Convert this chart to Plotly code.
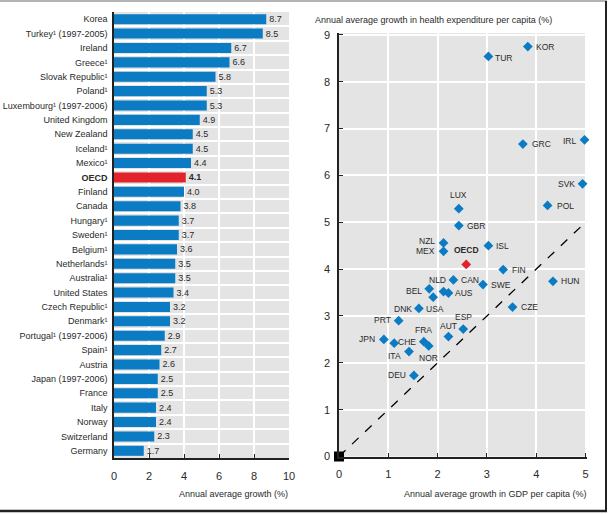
import plotly.graph_objects as go

# ---------------- data ----------------
countries = ["Korea", "Turkey¹ (1997-2005)", "Ireland", "Greece¹", "Slovak Republic¹", "Poland¹",
             "Luxembourg¹ (1997-2006)", "United Kingdom", "New Zealand", "Iceland¹", "Mexico¹",
             "OECD", "Finland", "Canada", "Hungary¹", "Sweden¹", "Belgium¹", "Netherlands¹",
             "Australia¹", "United States", "Czech Republic¹", "Denmark¹", "Portugal¹ (1997-2006)",
             "Spain¹", "Austria", "Japan (1997-2006)", "France", "Italy", "Norway", "Switzerland",
             "Germany"]
growth = [8.7, 8.5, 6.7, 6.6, 5.8, 5.3, 5.3, 4.9, 4.5, 4.5, 4.4, 4.1, 4.0, 3.8, 3.7, 3.7,
          3.6, 3.5, 3.5, 3.4, 3.2, 3.2, 2.9, 2.7, 2.6, 2.5, 2.5, 2.4, 2.4, 2.3, 1.7]

codes = ["KOR", "TUR", "IRL", "GRC", "SVK", "POL", "LUX", "GBR", "NZL", "ISL", "MEX", "OECD",
         "FIN", "CAN", "HUN", "SWE", "BEL", "NLD", "AUS", "USA", "CZE", "DNK", "PRT", "ESP",
         "AUT", "JPN", "FRA", "ITA", "NOR", "CHE", "DEU"]
gdp_growth = [3.83, 3.03, 4.98, 3.73, 4.94, 4.23, 2.43, 2.43, 2.12, 3.03, 2.12, 2.58,
              3.33, 2.32, 4.34, 2.92, 1.83, 2.12, 2.22, 1.91, 3.52, 1.62, 1.21, 2.52,
              2.22, 0.91, 1.72, 1.12, 1.82, 1.42, 1.52]
hlth_growth = [8.75, 8.54, 6.76, 6.67, 5.82, 5.36, 5.29, 4.93, 4.56, 4.50, 4.38, 4.10,
               3.99, 3.77, 3.74, 3.67, 3.58, 3.52, 3.49, 3.40, 3.19, 3.16, 2.90, 2.72,
               2.56, 2.50, 2.45, 2.42, 2.36, 2.24, 1.73]

bar_ticks = [0, 2, 4, 6, 8, 10]
sc_xticks = [0, 1, 2, 3, 4, 5]
sc_yticks = [0, 1, 2, 3, 4, 5, 6, 7, 8, 9]
diag = [0, 5.03]

# ---------------- styling ----------------
# label placement: code -> (xanchor, xshift px, yshift px)
LABEL_STYLE = {
    "KOR": ("left", 6, 0), "TUR": ("left", 5, -2), "IRL": ("right", -6, -1),
    "GRC": ("left", 7, 0), "SVK": ("right", -6, 0), "POL": ("left", 7, -1),
    "LUX": ("center", 0, 14), "GBR": ("left", 6, 0), "NZL": ("right", -7, 2),
    "ISL": ("left", 6, 0), "MEX": ("right", -7, 0), "OECD": ("center", 0, 14),
    "FIN": ("left", 7, 0), "CAN": ("left", 6, 0), "HUN": ("left", 6, 0),
    "SWE": ("left", 6, 0), "BEL": ("right", -5, -2), "NLD": ("right", 4, 12),
    "AUS": ("left", 5, 0), "USA": ("center", 2, -12), "CZE": ("left", 6, 0),
    "DNK": ("right", -5, -1), "PRT": ("right", -6, 1), "ESP": ("center", 0, 12),
    "AUT": ("center", 0, 11), "JPN": ("right", -7, 0), "FRA": ("center", 0, 12),
    "ITA": ("center", 0, -13), "NOR": ("center", 0, -12), "CHE": ("center", -2, 10),
    "DEU": ("right", -6, 0),
}

FONT = "Liberation Sans, Arial, sans-serif"
TXT = "#2a2a2a"
BLUE = "#0b7bc4"
RED = "#e2232b"
BG = "#e4e4e4"
W, H = 610, 514

rows = list(range(len(countries)))
bar_colors = [RED if c == "OECD" else BLUE for c in countries]
tick_text = ["<b>OECD</b>" if c == "OECD" else c for c in countries]
val_text = ["<b>%.1f</b>" % v if c == "OECD" else "%.1f" % v for c, v in zip(countries, growth)]

fig = go.Figure()

fig.add_trace(go.Bar(
    x=growth, y=rows, orientation="h", width=0.7,
    marker=dict(color=bar_colors, line=dict(width=0)),
    text=val_text, textposition="outside", cliponaxis=False,
    textfont=dict(family=FONT, size=9, color=TXT),
    xaxis="x", yaxis="y", showlegend=False,
))

is_oecd = [c == "OECD" for c in codes]
sc_colors = [RED if o else BLUE for o in is_oecd]
fig.add_trace(go.Scatter(
    x=diag, y=diag, mode="lines", line=dict(color="black", width=1.3, dash="dash"),
    xaxis="x2", yaxis="y2", showlegend=False,
))
fig.add_trace(go.Scatter(
    x=gdp_growth, y=hlth_growth, mode="markers",
    marker=dict(symbol="diamond", size=7.5, color=sc_colors, line=dict(width=0)),
    xaxis="x2", yaxis="y2", showlegend=False, cliponaxis=False,
))
fig.add_trace(go.Scatter(
    x=[0], y=[0], mode="markers", marker=dict(symbol="square", size=10, color="black"),
    xaxis="x2", yaxis="y2", showlegend=False, cliponaxis=False,
))

def px(xp):
    return xp / W

def py(yp):
    return (H - yp) / H

annotations = []
for c, gx, hy, o in zip(codes, gdp_growth, hlth_growth, is_oecd):
    xa, xs, ys = LABEL_STYLE[c]
    annotations.append(dict(
        text="<b>OECD</b>" if o else c, x=gx, y=hy, xref="x2", yref="y2",
        xanchor=xa, yanchor="middle", xshift=xs, yshift=ys, showarrow=False,
        font=dict(family=FONT, size=8.5, color=TXT)))

annotations += [
    dict(text="Annual average growth (%)", x=px(290), y=py(494), xref="paper", yref="paper",
         xanchor="right", yanchor="middle", showarrow=False,
         font=dict(family=FONT, size=9, color=TXT)),
    dict(text="Annual average growth in GDP per capita (%)", x=px(588), y=py(494),
         xref="paper", yref="paper", xanchor="right", yanchor="middle", showarrow=False,
         font=dict(family=FONT, size=9, color=TXT)),
    dict(text="Annual average growth in health expenditure per capita (%)", x=px(313),
         y=py(20), xref="paper", yref="paper", xanchor="left", yanchor="middle",
         showarrow=False, font=dict(family=FONT, size=9, color=TXT)),
]

num_font = dict(family=FONT, size=11, color=TXT)

fig.update_layout(
    width=W, height=H, margin=dict(l=0, r=0, t=0, b=0, autoexpand=False),
    paper_bgcolor="white", plot_bgcolor=BG,
    font=dict(family=FONT, size=9, color=TXT),
    xaxis=dict(domain=[px(114), px(289)], range=[0, 10], anchor="y", automargin=False,
               tickvals=bar_ticks, ticks="inside", ticklen=4, tickcolor="#222222",
               showline=True, linecolor="#222222", linewidth=1.5,
               showgrid=True, gridcolor="white", gridwidth=1.5, zeroline=False,
               tickfont=num_font, ticklabelstandoff=7, fixedrange=True),
    yaxis=dict(domain=[py(458), py(12)], range=[30.5, -0.5], anchor="x", automargin=False,
               tickvals=rows, ticktext=tick_text, ticks="", showgrid=False,
               showline=True, linecolor="#222222", linewidth=1.5, zeroline=False,
               tickfont=dict(family=FONT, size=9, color=TXT), ticklabelstandoff=3,
               minor=dict(tickvals=[r + 0.5 for r in rows[:-1]], showgrid=True,
                          gridcolor="white", gridwidth=1.5, ticks="")),
    xaxis2=dict(domain=[px(339), px(587)], range=[0, 5.03], anchor="y2", automargin=False,
                tickvals=sc_xticks, ticks="inside", ticklen=4, tickcolor="#222222",
                showline=True, linecolor="#222222", linewidth=1.5,
                showgrid=True, gridcolor="white", gridwidth=1.5, zeroline=False,
                tickfont=num_font, ticklabelstandoff=7),
    yaxis2=dict(domain=[py(456.5), py(33)], range=[0, 9.04], anchor="x2", automargin=False,
                tickvals=sc_yticks, ticks="inside", ticklen=4, tickcolor="#222222",
                showline=True, linecolor="#222222", linewidth=1.5,
                showgrid=True, gridcolor="white", gridwidth=1.5, zeroline=False,
                tickfont=num_font, ticklabelstandoff=5),
    annotations=annotations,
    shapes=[
        dict(type="line", xref="paper", yref="paper", x0=0, x1=px(607), y0=py(1), y1=py(1),
             line=dict(color="#9a9a9a", width=1.5)),
        dict(type="line", xref="paper", yref="paper", x0=px(606), x1=px(606), y0=py(1), y1=py(511),
             line=dict(color="#222222", width=2)),
        dict(type="line", xref="paper", yref="paper", x0=0, x1=px(607), y0=py(511), y1=py(511),
             line=dict(color="#222222", width=2.5)),
    ],
)

fig.write_html("out.html", config={"displayModeBar": False},
               post_script="document.body.style.margin='0';document.body.style.overflow='hidden';")
